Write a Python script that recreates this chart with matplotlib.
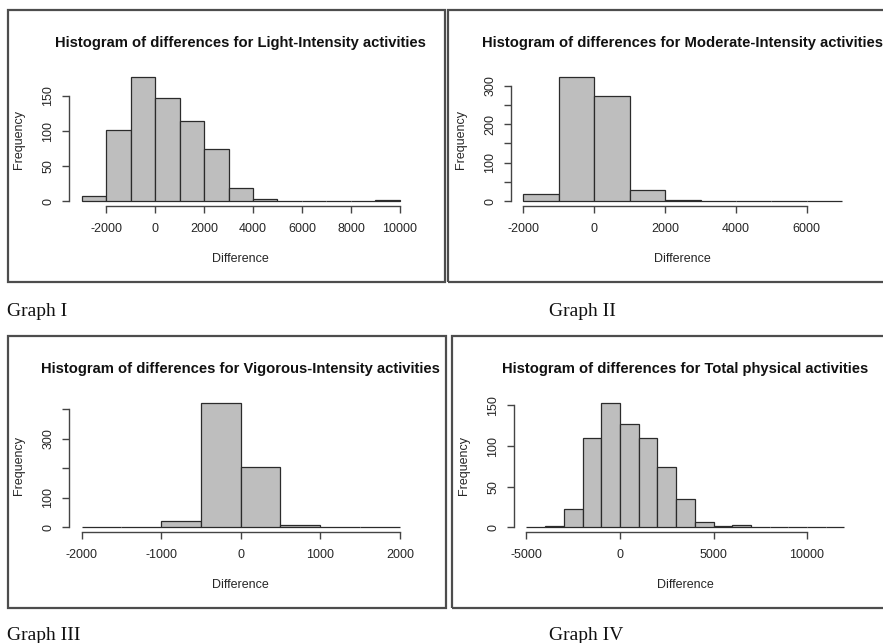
import matplotlib
matplotlib.use("Agg")
import matplotlib.pyplot as plt
from matplotlib.patches import Rectangle

plt.rcParams['font.family'] = ['Liberation Sans', 'DejaVu Sans']
plt.rcParams['axes.unicode_minus'] = False

# ---------------- data ----------------
titles = [
    "Histogram of differences for Light-Intensity activities",
    "Histogram of differences for Moderate-Intensity activities",
    "Histogram of differences for Vigorous-Intensity activities",
    "Histogram of differences for Total physical activities",
]
graph_labels = ["Graph I", "Graph II", "Graph III", "Graph IV"]
x_label = "Difference"
y_label = "Frequency"

light_edges = [-3000, -2000, -1000, 0, 1000, 2000, 3000, 4000, 5000, 6000, 7000, 8000, 9000, 10000]
light_counts = [7, 102, 177, 147, 114, 75, 19, 4, 1, 1, 0, 0, 2]
light_xticks = [-2000, 0, 2000, 4000, 6000, 8000, 10000]
light_yticks = [0, 50, 100, 150]
light_ylabels = ["0", "50", "100", "150"]

moderate_edges = [-2000, -1000, 0, 1000, 2000, 3000, 4000, 5000, 6000, 7000]
moderate_counts = [18, 322, 273, 29, 3, 0, 2, 0, 0]
moderate_xticks = [-2000, 0, 2000, 4000, 6000]
moderate_yticks = [0, 50, 100, 150, 200, 250, 300]
moderate_ylabels = ["0", "", "100", "", "200", "", "300"]

vigorous_edges = [-2000, -1500, -1000, -500, 0, 500, 1000, 1500, 2000]
vigorous_counts = [1, 1, 20, 420, 203, 8, 0, 0]
vigorous_xticks = [-2000, -1000, 0, 1000, 2000]
vigorous_yticks = [0, 100, 200, 300, 400]
vigorous_ylabels = ["0", "100", "", "300", ""]

total_edges = [-5000, -4000, -3000, -2000, -1000, 0, 1000, 2000, 3000, 4000, 5000,
               6000, 7000, 8000, 9000, 10000, 11000, 12000]
total_counts = [1, 2, 22, 110, 153, 127, 110, 74, 35, 6, 2, 3, 0, 0, 0, 1, 1]
total_xticks = [-5000, 0, 5000, 10000]
total_yticks = [0, 50, 100, 150]
total_ylabels = ["0", "50", "100", "150"]

panels = [
    (light_edges, light_counts, light_xticks, light_yticks, light_ylabels),
    (moderate_edges, moderate_counts, moderate_xticks, moderate_yticks, moderate_ylabels),
    (vigorous_edges, vigorous_counts, vigorous_xticks, vigorous_yticks, vigorous_ylabels),
    (total_edges, total_counts, total_xticks, total_yticks, total_ylabels),
]

# ---------------- layout (pixels) ----------------
W, H = 883, 643
fig = plt.figure(figsize=(W / 100, H / 100), dpi=100)

# plot regions: left, right, top, bottom  (pixel coords, y from top)
plot_regions = [
    (68.8, 412.7, 72.1, 206.3),
    (510.7, 855.0, 72.1, 206.3),
    (68.8, 412.6, 398.0, 532.3),
    (513.7, 857.2, 398.0, 532.3),
]
# outer boxes: left, right, top, bottom
boxes = [
    (8, 444.5, 10, 281.5),
    (448, 895, 10, 281.5),
    (8, 445.5, 336, 607.5),
    (451.5, 895, 336, 607.5),
]
# graph labels: left x, baseline y
label_pos = [(7, 316), (549, 316), (7, 640), (549, 640)]

TXT = '#262626'
AX = '#444444'

for r in boxes:
    x0, x1, y0, y1 = r
    fig.add_artist(Rectangle((x0 / W, 1 - y1 / H), (x1 - x0) / W, (y1 - y0) / H,
                             transform=fig.transFigure, fill=False,
                             edgecolor='#4d4d4d', linewidth=1.6, clip_on=False))

for i, (edges, counts, xt, yt, ylab) in enumerate(panels):
    l, r, t, b = plot_regions[i]
    ax = fig.add_axes([l / W, 1 - b / H, (r - l) / W, (b - t) / H])
    lefts = edges[:-1]
    widths = [edges[k + 1] - edges[k] for k in range(len(counts))]
    ax.bar(lefts, counts, width=widths, align='edge', color='#bebebe',
           edgecolor='#2b2b2b', linewidth=0.9)
    span = edges[-1] - edges[0]
    ax.set_xlim(edges[0] - 0.04 * span, edges[-1] + 0.04 * span)
    mx = max(counts)
    ax.set_ylim(-0.04 * mx, 1.04 * mx)

    for s in ('top', 'right'):
        ax.spines[s].set_visible(False)
    for s in ('left', 'bottom'):
        ax.spines[s].set_color(AX)
        ax.spines[s].set_linewidth(1.0)
    ax.spines['bottom'].set_bounds(xt[0], xt[-1])
    ax.spines['left'].set_bounds(yt[0], yt[-1])

    ax.set_xticks(xt)
    ax.set_xticklabels([str(v) for v in xt])
    ax.set_yticks(yt)
    ax.set_yticklabels(ylab, rotation=90, va='center')
    ax.tick_params(axis='x', length=5, width=1.0, color=AX, labelsize=9,
                   labelcolor=TXT, pad=7)
    ax.tick_params(axis='y', length=5, width=1.0, color=AX, labelsize=9,
                   labelcolor=TXT, pad=5.5)
    ax.patch.set_alpha(0)

    ax.annotate(titles[i], xy=(0.5, 1), xycoords='axes fraction',
                xytext=(0, 21.2), textcoords='offset points',
                ha='center', va='center', fontsize=10.6, fontweight='bold',
                color='#111111')
    ax.annotate(x_label, xy=(0.5, 0), xycoords='axes fraction',
                xytext=(0, -38.2), textcoords='offset points',
                ha='center', va='center', fontsize=9, color=TXT)
    ax.annotate(y_label, xy=(0, 0.5), xycoords='axes fraction',
                xytext=(-35.8, 0), textcoords='offset points',
                ha='center', va='center', fontsize=9, color=TXT, rotation=90)

for lab, (x, y) in zip(graph_labels, label_pos):
    fig.text(x / W, 1 - y / H, lab, ha='left', va='baseline',
             fontsize=14, family=['Liberation Serif', 'DejaVu Serif'], color='#111111')

fig.savefig("out.png", dpi=100, facecolor='white')
